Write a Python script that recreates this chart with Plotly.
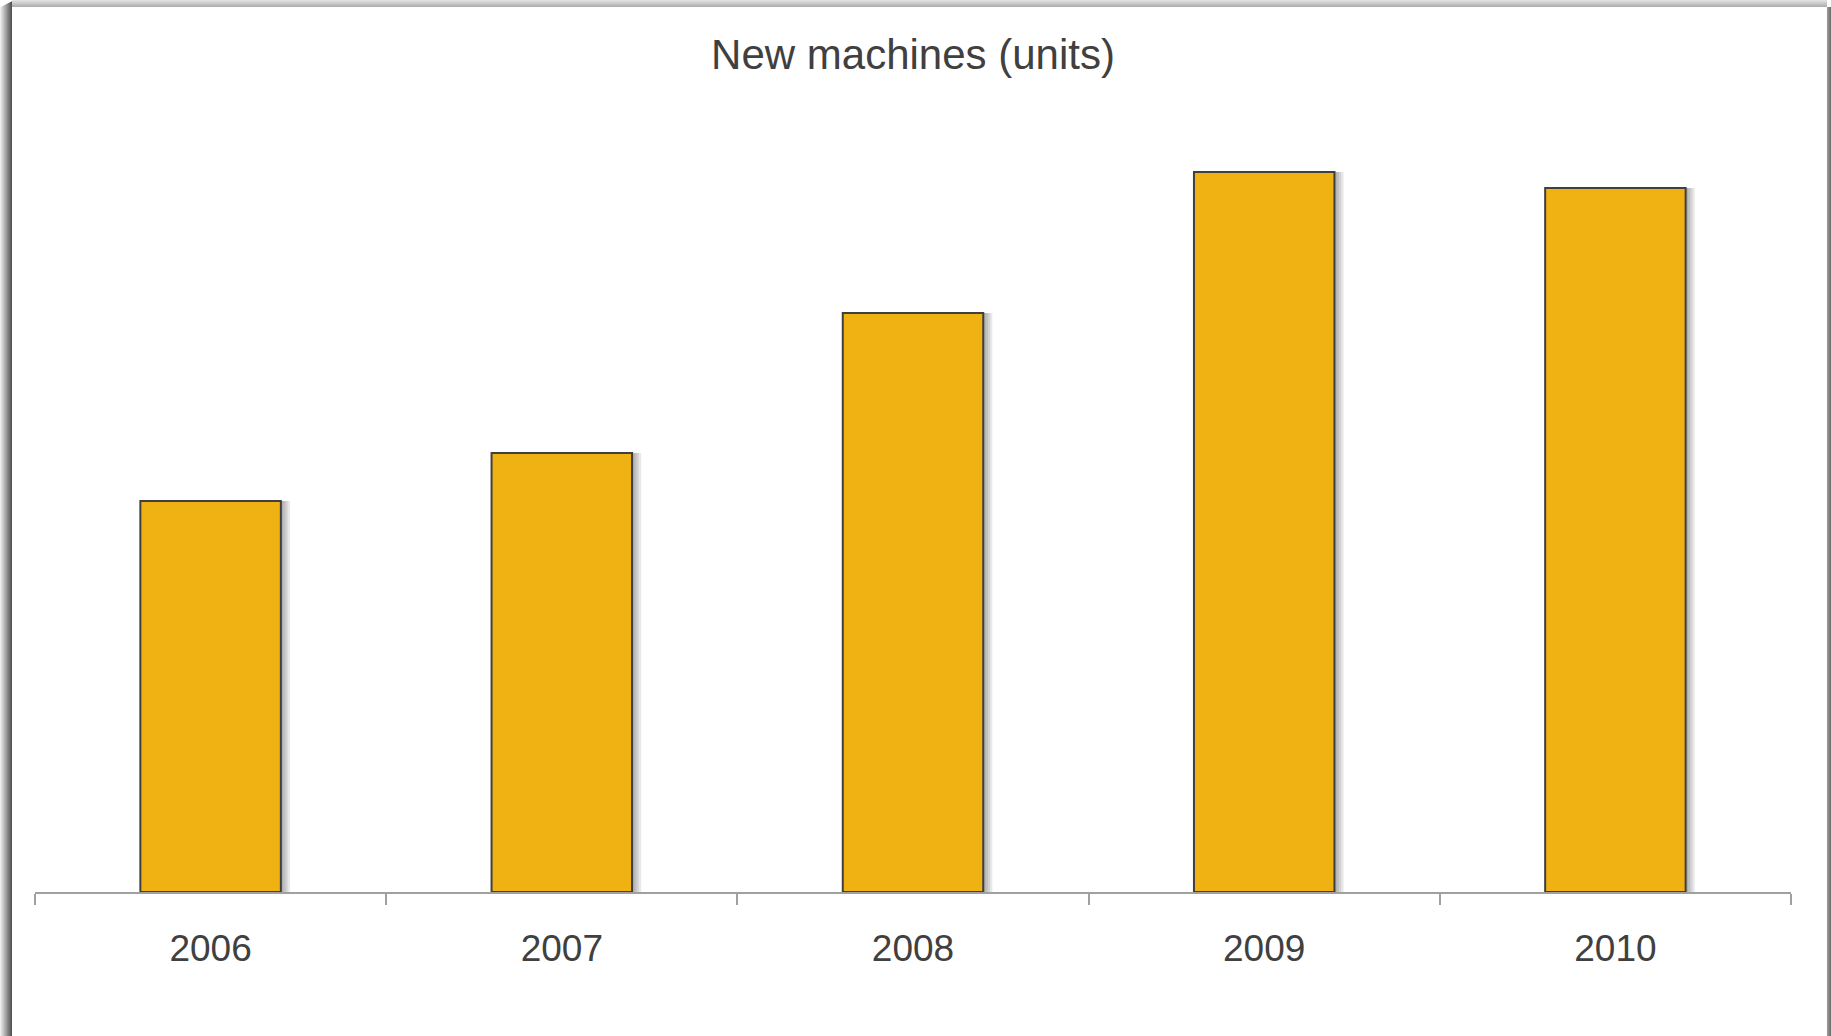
import plotly.graph_objects as go

years = ["2006", "2007", "2008", "2009", "2010"]
new_machines = [391, 439, 579, 720, 704]

W, H = 1831, 1036
ML, MR, MT, MB = 35, 40, 110, 144
PW = W - ML - MR
PH = H - MT - MB

def px_x(x):
    return (x - ML) / PW

def px_y(y):
    return (H - MB - y) / PH

fig = go.Figure()

# soft bar shadows (layered)
for s in range(1, 5):
    fig.add_trace(go.Bar(
        x=years, y=new_machines, width=0.4, offset=-0.2 + 0.0065 * s,
        marker=dict(color="rgba(0,0,0,0.09)", line=dict(width=0)),
        hoverinfo="skip", showlegend=False,
    ))
fig.add_trace(go.Bar(
    x=years, y=new_machines, width=0.4, offset=-0.2,
    marker=dict(color="#F0B213", line=dict(color="#3F3F3F", width=2)),
    showlegend=False,
))

shapes = []
# card shadow: left
for i in range(12):
    g = int(238 - (i / 11) * 155)
    shapes.append(dict(type="rect", xref="paper", yref="paper",
                       x0=px_x(i), x1=px_x(i + 1), y0=px_y(H), y1=px_y(7 - i * 0.5),
                       fillcolor=f"rgb({g},{g},{g})", line=dict(width=0), layer="below"))
# top
for j in range(7):
    g = int(225 - (j / 6) * 50)
    shapes.append(dict(type="rect", xref="paper", yref="paper",
                       x0=px_x(12), x1=px_x(1827), y0=px_y(j + 1), y1=px_y(j),
                       fillcolor=f"rgb({g},{g},{g})", line=dict(width=0), layer="below"))
# right
for k in range(4):
    g = int(150 - k * 12)
    shapes.append(dict(type="rect", xref="paper", yref="paper",
                       x0=px_x(1827 + k), x1=px_x(1828 + k), y0=px_y(H), y1=px_y(7),
                       fillcolor=f"rgb({g},{g},{g})", line=dict(width=0), layer="below"))

fig.update_layout(
    width=W, height=H,
    margin=dict(l=ML, r=MR, t=MT, b=MB, pad=0),
    paper_bgcolor="white", plot_bgcolor="white",
    barmode="overlay",
    title=dict(text="New machines (units)", x=913 / W, xanchor="center",
               y=1 - 54 / H, yanchor="middle",
               font=dict(family="Liberation Sans, Arial", size=42, color="#404040")),
    font=dict(family="Liberation Sans, Arial", color="#404040"),
    shapes=shapes,
    xaxis=dict(type="category", showgrid=False, showline=True, linecolor="#A0A0A0",
               linewidth=1.5, ticks="outside", tickson="boundaries", ticklen=11,
               tickcolor="#A0A0A0", tickwidth=1.5, ticklabelstandoff=23,
               tickfont=dict(size=37, color="#404040"), range=[-0.5, 4.5]),
    yaxis=dict(visible=False, range=[0, PH], showgrid=False, zeroline=False),
)

fig.write_html("out.html")
